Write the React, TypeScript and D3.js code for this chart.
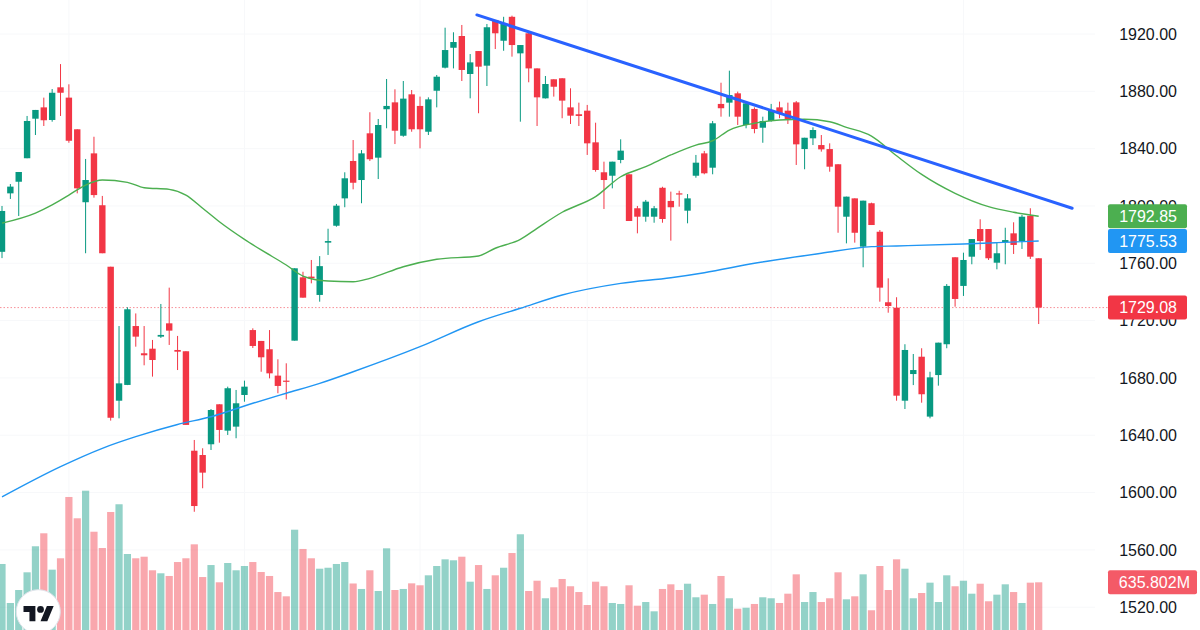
import * as d3 from "d3";

// Daily candles (oldest first)
const opens = [1768, 1808.8, 1816.9, 1833.3, 1860.9, 1868.8, 1860, 1882.8, 1875.6, 1853.5, 1802.6, 1836.7, 1800.5, 1757.6, 1664.1, 1675.1, 1716.2, 1697.2, 1700.4, 1708.8, 1718.1, 1699.5, 1698.6, 1629.2, 1626.2, 1633.7, 1661.6, 1643.2, 1646, 1668.1, 1713.4, 1705.8, 1700, 1681.6, 1678.1, 1706, 1750.2, 1750.7, 1737.9, 1774.4, 1786.2, 1805.3, 1831.4, 1818.1, 1850.7, 1833.7, 1867.5, 1872.3, 1849, 1877.9, 1869.8, 1851.8, 1880.4, 1896.5, 1910.4, 1918.6, 1892.1, 1908.1, 1897.9, 1929.8, 1915.3, 1932, 1906.5, 1920.5, 1896, 1875.1, 1888.4, 1889.1, 1868.8, 1864, 1866.5, 1844.4, 1823.5, 1821.1, 1832.1, 1822.1, 1798.4, 1792.5, 1792.5, 1812.7, 1803.5, 1808.8, 1796.7, 1821.1, 1836.7, 1826.7, 1871.2, 1872.1, 1878.6, 1856.5, 1867.7, 1854.6, 1859.3, 1868.8, 1866.5, 1872.3, 1839.7, 1847.2, 1842.5, 1839.7, 1829.1, 1792.5, 1805.3, 1771.6, 1801.9, 1782, 1732.8, 1729, 1664.1, 1682.7, 1694.8, 1653, 1682, 1703.5, 1764.2, 1744.2, 1764.6, 1783.9, 1783.9, 1760.4, 1774.8, 1780.9, 1775.5, 1793.2, 1763.5];
const highs = [1800, 1815.3, 1823.7, 1862.8, 1867, 1875.6, 1881.6, 1899, 1884.9, 1853.5, 1832.8, 1848.3, 1807, 1757.6, 1716.2, 1729.3, 1725, 1716.2, 1706.5, 1731.6, 1743, 1709.3, 1698.6, 1636.7, 1630.9, 1658.3, 1661.6, 1673.9, 1671.6, 1678.1, 1714.6, 1705.8, 1713.4, 1693, 1690.2, 1756.5, 1754.1, 1762.3, 1765, 1784.1, 1801.4, 1823.5, 1846, 1839, 1865.4, 1860.7, 1888.6, 1881.4, 1887.2, 1880.9, 1876.3, 1875.8, 1891.4, 1924.4, 1921.2, 1926.3, 1906, 1908.1, 1927, 1929.8, 1932, 1932.8, 1912.3, 1922.3, 1896, 1890.7, 1888.4, 1889.1, 1882.1, 1872.1, 1870.5, 1858.1, 1830.9, 1830.9, 1846.5, 1822.1, 1800, 1804.2, 1800, 1813.4, 1810, 1810.6, 1808.3, 1835.6, 1838.4, 1859.3, 1886, 1894.4, 1879.8, 1872.8, 1868.8, 1862.3, 1871.2, 1872.8, 1872.1, 1873.2, 1847.6, 1854.9, 1849.5, 1843.7, 1829.1, 1806.5, 1805.3, 1803.7, 1802.3, 1783.2, 1749.5, 1736.3, 1703.5, 1696.7, 1700.7, 1684.3, 1704.6, 1745.5, 1764.2, 1767.4, 1776.9, 1790.7, 1783.9, 1774.4, 1784.8, 1788.6, 1793.7, 1798.4, 1763.5];
const lows = [1763.6, 1804.9, 1793, 1833.3, 1849.5, 1855.8, 1858.8, 1862.8, 1844.1, 1808.8, 1767, 1805.8, 1767, 1650.2, 1651.8, 1675, 1701.8, 1688.8, 1680.9, 1707.9, 1703, 1685.5, 1647.2, 1586.6, 1603, 1629.7, 1634.8, 1640.2, 1637.9, 1663.4, 1700.9, 1684.3, 1679.7, 1669.3, 1665, 1706, 1736, 1746, 1733.2, 1765.8, 1785.5, 1799.1, 1811.6, 1801.9, 1831.4, 1818.8, 1854.2, 1843.2, 1848.3, 1851.8, 1840.2, 1849.5, 1868.8, 1896, 1896, 1887.2, 1875.1, 1864.7, 1883.7, 1909.5, 1908.3, 1904.2, 1858.8, 1886.3, 1855.8, 1875, 1876.3, 1861.2, 1857.2, 1855.8, 1835.6, 1823.9, 1797.9, 1812.3, 1829.8, 1789.5, 1780.9, 1789, 1788.3, 1788.3, 1775.8, 1799.5, 1787.9, 1819.7, 1822.1, 1822.1, 1862.3, 1862.3, 1856.5, 1854.2, 1850.7, 1844.1, 1858.8, 1861.2, 1857.2, 1828.6, 1825.6, 1842.5, 1837.9, 1823.9, 1781.3, 1773.9, 1774.4, 1757.2, 1786.7, 1733.2, 1725.5, 1664.1, 1658.3, 1675, 1662.7, 1651.8, 1674.6, 1700.7, 1729.7, 1737.2, 1759.3, 1769.3, 1762.3, 1755.8, 1759.3, 1766.5, 1770, 1763, 1717.6];
const closes = [1796.5, 1813.5, 1823.7, 1859.3, 1867, 1859.8, 1879, 1879, 1845.5, 1812.3, 1818.1, 1807.6, 1767, 1652.2, 1676.2, 1727.9, 1708.8, 1695.8, 1692.5, 1710, 1713, 1698.3, 1647.2, 1590.6, 1613.9, 1657.6, 1643.7, 1672.8, 1662.3, 1673.9, 1702.3, 1694.4, 1683.2, 1674.4, 1677.4, 1756.5, 1736, 1749.5, 1758, 1775.5, 1800.2, 1819.3, 1816.2, 1836.7, 1832.6, 1856.5, 1869.8, 1852.5, 1874.9, 1853.5, 1853.5, 1874.4, 1890.2, 1908.8, 1914.4, 1894.9, 1900.2, 1897.2, 1924.7, 1920.5, 1927.5, 1912.3, 1912.3, 1896, 1875.8, 1885.1, 1883.2, 1873.5, 1863, 1862.8, 1843.7, 1825.1, 1818.1, 1830.9, 1838.6, 1789.5, 1792.5, 1803, 1798.4, 1790.9, 1799.1, 1808.1, 1805.3, 1830.2, 1822.8, 1857.7, 1868.2, 1877.4, 1862.3, 1871.6, 1853.7, 1859.3, 1866.5, 1864.7, 1860.7, 1843, 1847.6, 1853, 1839.5, 1827.4, 1799.5, 1806.5, 1781.3, 1803.7, 1786.7, 1743, 1730.2, 1667.6, 1699.5, 1685.5, 1668.6, 1680.4, 1704.6, 1744.2, 1735.1, 1762.3, 1776.9, 1775.5, 1763.5, 1767, 1776.2, 1772.8, 1792.5, 1764.6, 1729.08];
// Volume in millions
const volumes = [880, 360, 533, 769, 1116, 1289, 804, 956, 1773, 1489, 1857, 1310, 1093, 1573, 1676, 1013, 956, 977, 796, 756, 720, 906, 956, 1142, 706, 866, 636, 893, 796, 853, 906, 773, 720, 506, 449, 1337, 1080, 956, 817, 830, 880, 906, 620, 547, 796, 520, 1089, 533, 547, 622, 596, 729, 853, 942, 929, 977, 644, 866, 547, 729, 830, 1026, 1276, 520, 657, 423, 569, 680, 583, 506, 333, 644, 583, 360, 347, 596, 324, 373, 249, 547, 609, 533, 617, 436, 471, 347, 720, 423, 284, 297, 347, 436, 423, 360, 484, 742, 373, 506, 373, 423, 769, 409, 449, 742, 263, 853, 533, 942, 817, 423, 493, 631, 373, 729, 583, 657, 484, 617, 383, 471, 609, 506, 360, 631, 635.802];

// Moving averages sampled at bar indices
const maFastIdx = [0, 4, 6, 8, 10, 12, 15, 17, 20, 22, 24, 26, 29, 31, 34, 36, 39, 42, 44, 48, 52, 57, 59, 62, 64, 67, 71, 74, 77, 80, 83, 85, 87, 90, 93, 96, 99, 101, 104, 107, 110, 114, 118, 121, 124];
const maFastVal = [1788, 1795, 1800.7, 1807.6, 1814.6, 1818.1, 1816.5, 1812.7, 1811.6, 1807.6, 1798.4, 1789, 1776.7, 1769.3, 1758.8, 1751.1, 1747.6, 1747.1, 1749.5, 1757.6, 1762.8, 1765.1, 1770.5, 1776.7, 1784.4, 1795.6, 1806.5, 1820.4, 1827.4, 1835.6, 1842.5, 1845.5, 1853, 1857.7, 1860, 1860.5, 1858.8, 1854.9, 1848.8, 1835, 1822, 1808.8, 1799.5, 1795.6, 1792.85];
const maSlowIdx = [0, 7, 12, 16, 21, 25, 30, 34, 38, 42, 50, 57, 62, 67, 74, 80, 84, 90, 98, 104, 107, 115, 119, 124];
const maSlowVal = [1597, 1618.1, 1630.9, 1639, 1647.5, 1652.9, 1662.3, 1669.3, 1676.2, 1684.3, 1701.8, 1719.2, 1728.6, 1737.9, 1746, 1749.9, 1753.4, 1760, 1767, 1771.6, 1772.1, 1773.5, 1774.4, 1775.53];

// Trendline anchors [bar index, price]
const trendIdx = [56.8, 128];
const trendPrice = [1933.3, 1798.4];

const priceTicks = [1520, 1560, 1600, 1640, 1680, 1720, 1760, 1800, 1840, 1880, 1920];
const gridBars = [8, 29, 50, 70, 92, 115];

const UP = "#089981";
const DOWN = "#f23645";
const FONT = "'Liberation Sans', Arial, sans-serif";

export default function App() {
  const width = 1200;
  const height = 630;
  const n = closes.length;

  const x = d3.scaleLinear().domain([0, n - 1]).range([2, 1038.7]);
  const y = d3.scaleLinear().domain([1520, 1920]).range([607.2, 34]);
  const vol = d3.scaleLinear().domain([0, volumes[n - 1]]).range([630, 582.3]);

  const bodyW = 6.4;
  const volW = 7.2;

  const line = d3
    .line<[number, number]>()
    .x((d) => x(d[0]))
    .y((d) => y(d[1]))
    .curve(d3.curveMonotoneX);

  const fastPath = line(maFastIdx.map((d, i) => [d, maFastVal[i]]));
  const slowPath = line(maSlowIdx.map((d, i) => [d, maSlowVal[i]]));
  const trendPath = d3
    .line<[number, number]>()
    .x((d) => x(d[0]))
    .y((d) => y(d[1]))(trendIdx.map((d, i) => [d, trendPrice[i]]));

  const lastClose = closes[n - 1];
  const lastFast = maFastVal[maFastVal.length - 1];
  const lastSlow = maSlowVal[maSlowVal.length - 1];

  const badges = [
    { v: lastFast, color: "#4caf50" },
    { v: lastSlow, color: "#2196f3" },
    { v: lastClose, color: DOWN },
  ];

  return (
    <div style={{ position: "absolute", left: 0, top: 0 }}>
      <svg width={width} height={height} viewBox={`0 0 ${width} ${height}`} style={{ display: "block", background: "#fff" }}>
        {/* grid, barely visible like the original */}
        <g stroke="#f7f8fa" strokeWidth={1}>
          {priceTicks.map((t) => (
            <line key={t} x1={0} x2={1095} y1={y(t)} y2={y(t)} />
          ))}
          {gridBars.map((b) => (
            <line key={b} x1={x(b)} x2={x(b)} y1={0} y2={height} />
          ))}
        </g>

        {/* volume */}
        <g>
          {volumes.map((v, i) => (
            <rect
              key={i}
              x={x(i) - volW / 2}
              y={vol(v)}
              width={volW}
              height={vol(0) - vol(v)}
              fill={closes[i] >= opens[i] ? UP : DOWN}
              fillOpacity={0.44}
            />
          ))}
        </g>

        {/* last price line */}
        <line x1={0} x2={1108} y1={y(lastClose)} y2={y(lastClose)} stroke={DOWN} strokeOpacity={0.55} strokeDasharray="1.5 2" />

        {/* candles */}
        <g>
          {closes.map((c, i) => {
            const o = opens[i];
            const col = c >= o ? UP : DOWN;
            const top = y(Math.max(o, c));
            const bot = y(Math.min(o, c));
            return (
              <g key={i}>
                <line x1={x(i)} x2={x(i)} y1={y(highs[i])} y2={y(lows[i])} stroke={col} strokeWidth={1} />
                <rect x={x(i) - bodyW / 2} y={top} width={bodyW} height={Math.max(1.2, bot - top)} fill={col} />
              </g>
            );
          })}
        </g>

        {/* moving averages */}
        <path d={slowPath ?? ""} fill="none" stroke="#2196f3" strokeWidth={1.4} />
        <path d={fastPath ?? ""} fill="none" stroke="#4caf50" strokeWidth={1.4} />

        {/* trendline */}
        <path d={trendPath ?? ""} fill="none" stroke="#2962ff" strokeWidth={3} strokeLinecap="round" />

        {/* price axis */}
        <g fontFamily={FONT} fontSize={16} fill="#131722" textAnchor="end">
          {priceTicks.map((t) => (
            <text key={t} x={1177} y={y(t)} dy="0.36em">
              {t.toFixed(2)}
            </text>
          ))}
        </g>

        {/* badges */}
        <g fontFamily={FONT} fontSize={16} fill="#fff" textAnchor="end">
          {badges.map((b) => (
            <g key={b.color}>
              <rect x={1108} y={y(b.v) - 12} width={79} height={24} rx={2} fill={b.color} />
              <text x={1177} y={y(b.v)} dy="0.36em" fill="#fff">
                {b.v.toFixed(2)}
              </text>
            </g>
          ))}
          <rect x={1108} y={vol(volumes[n - 1]) - 12} width={89} height={24} rx={2} fill={DOWN} fillOpacity={0.82} />
          <text x={1190} y={vol(volumes[n - 1])} dy="0.36em" fill="#fff">
            {`${volumes[n - 1].toFixed(3)}M`}
          </text>
        </g>

        {/* logo */}
        <circle cx={38.3} cy={611.7} r={22} fill="#fff" stroke="#e0e3eb" strokeWidth={1} />
        <g transform="translate(23.5,602.6) scale(0.85)" fill="#131722">
          <path d="M14 22H7V11H0V4h14v18zM28 22h-8l7.5-18h8L28 22z" />
          <circle cx={20} cy={8} r={4} />
        </g>
      </svg>
    </div>
  );
}
